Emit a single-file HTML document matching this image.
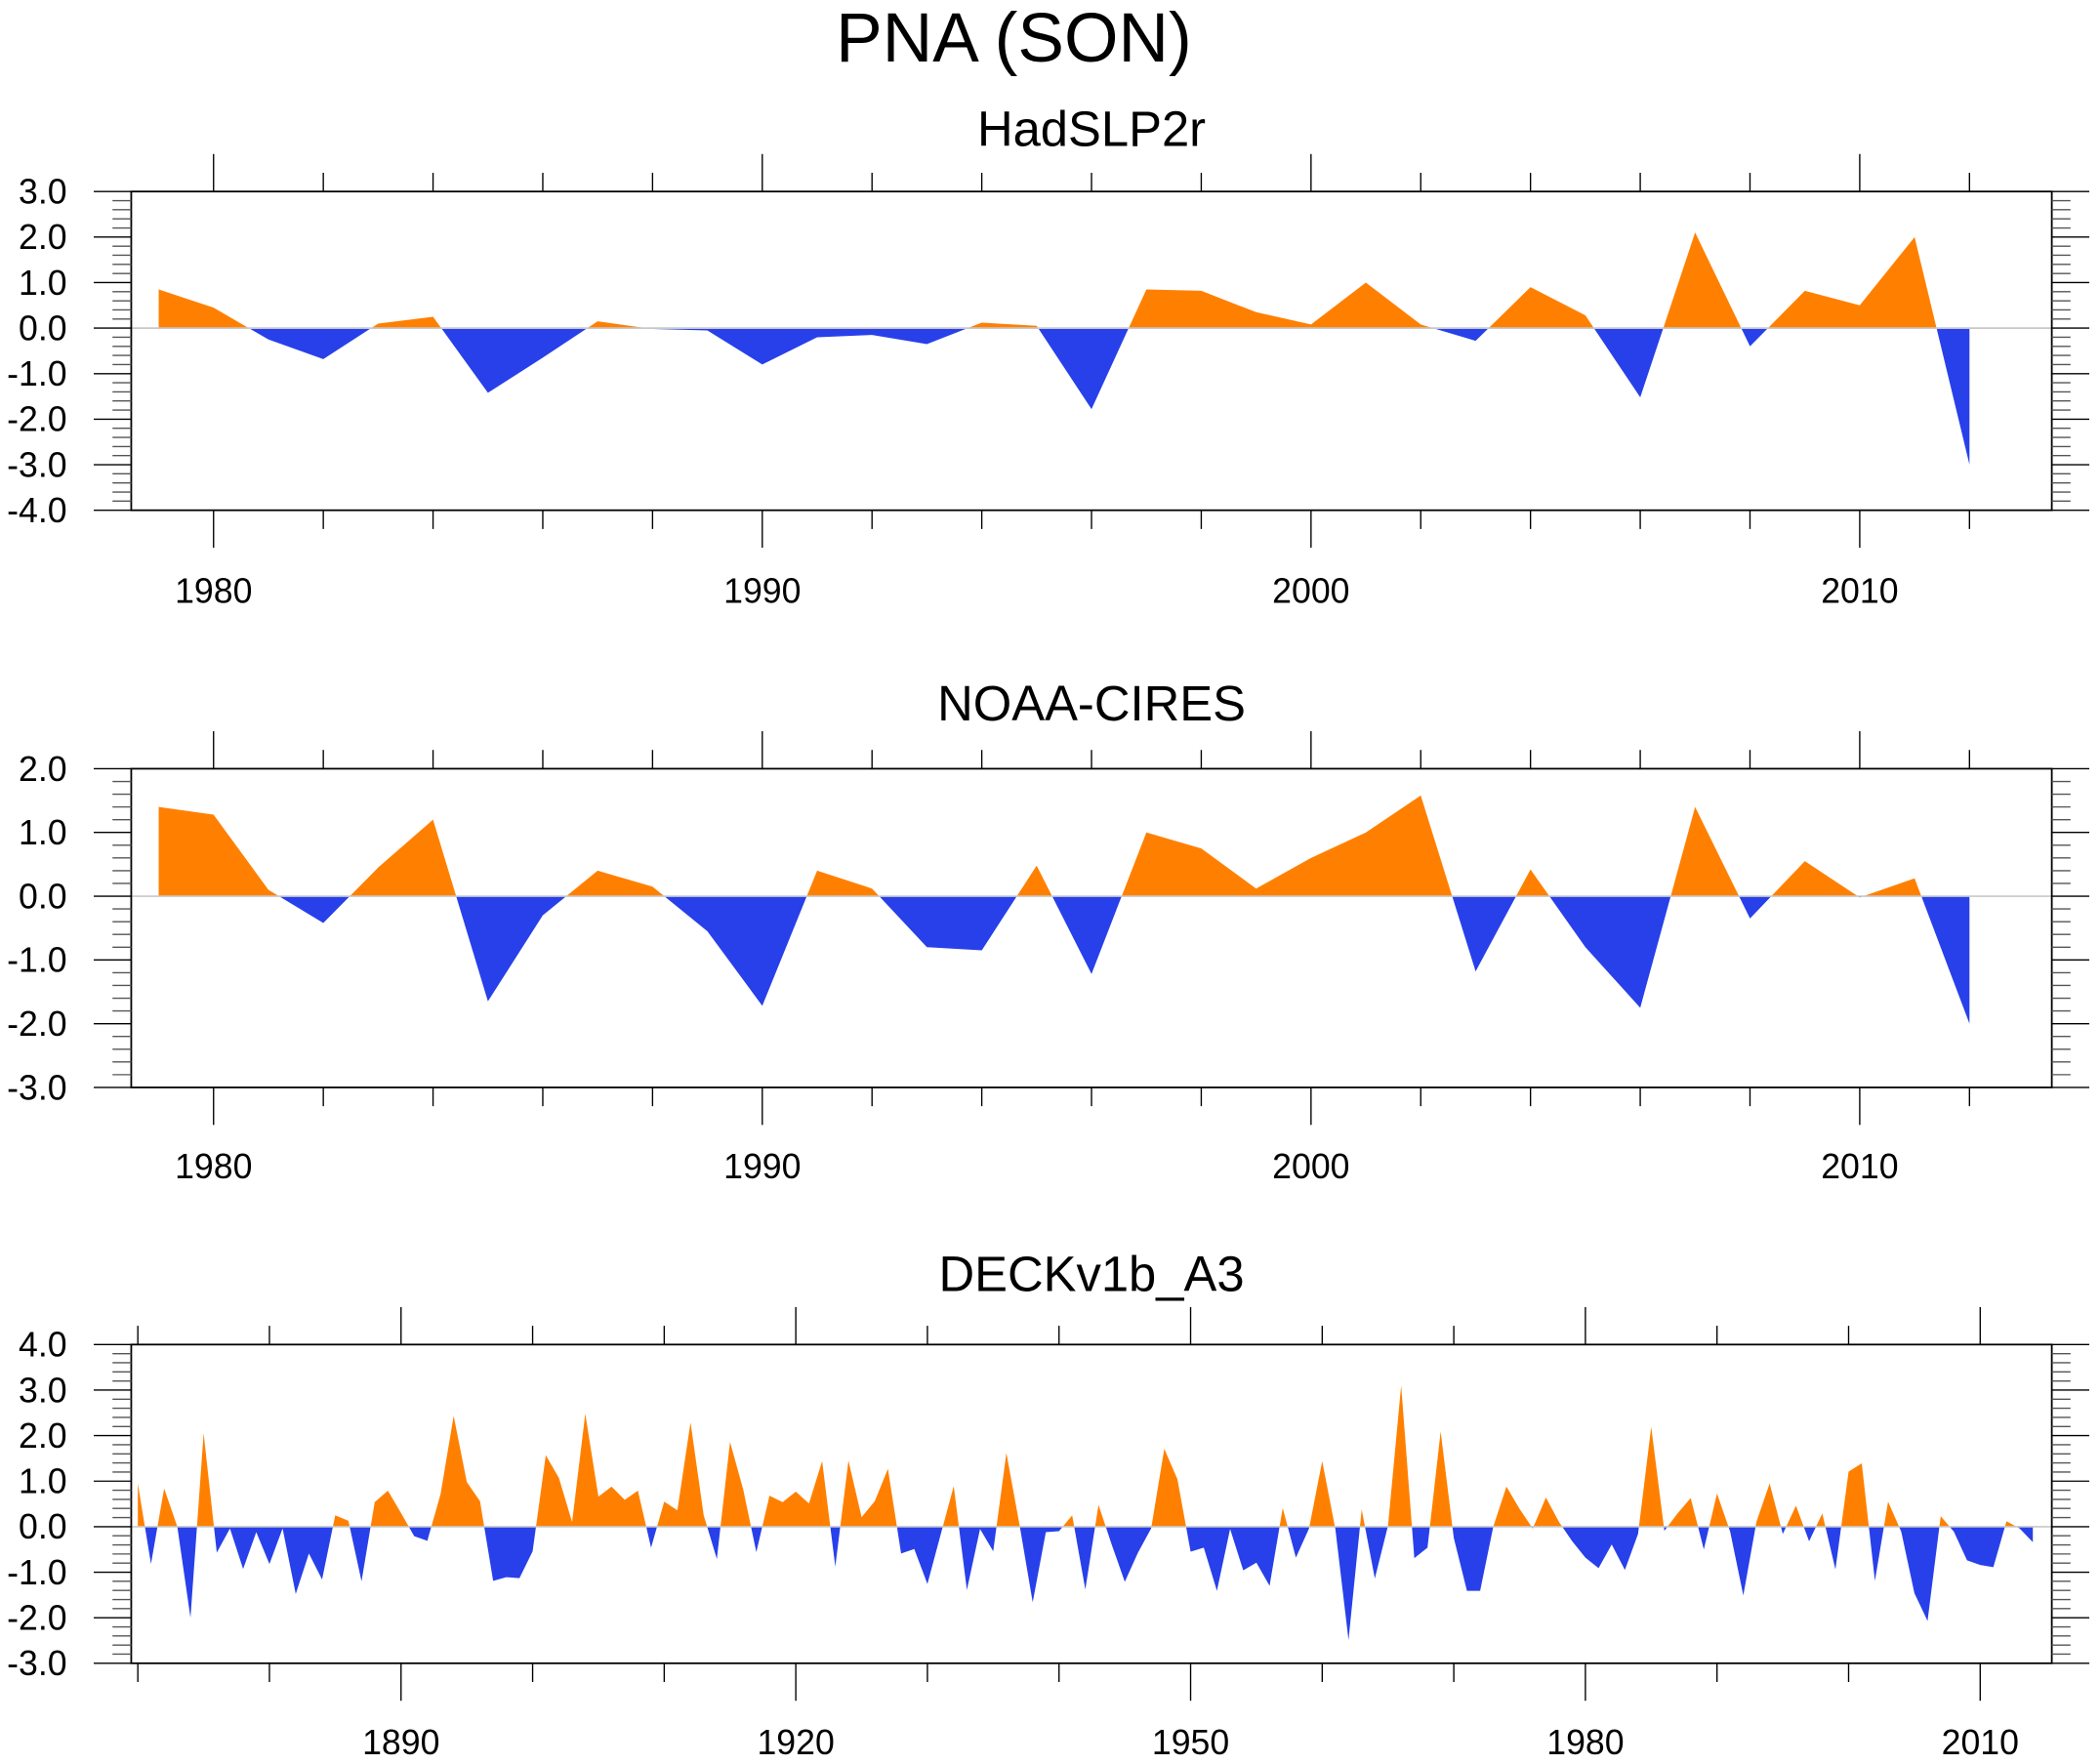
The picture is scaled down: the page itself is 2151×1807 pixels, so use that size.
<!DOCTYPE html>
<html><head><meta charset="utf-8"><style>html,body{margin:0;padding:0;background:#fff}svg{display:block}text{font-family:"Liberation Sans",sans-serif;fill:#000}</style></head>
<body>
<svg id="chart" xmlns="http://www.w3.org/2000/svg" width="2151" height="1807" viewBox="0 0 1568 1317.2">
<rect width="1568" height="1317.2" fill="#fff"/>
<text x="757" y="46" font-size="52" text-anchor="middle">PNA (SON)</text>
</svg>
<script>
const hadYears=[1979,1980,1981,1982,1983,1984,1985,1986,1987,1988,1989,1990,1991,1992,1993,1994,1995,1996,1997,1998,1999,2000,2001,2002,2003,2004,2005,2006,2007,2008,2009,2010,2011,2012];
const hadValues=[0.85,0.45,-0.25,-0.68,0.1,0.25,-1.42,-0.65,0.15,-0.02,-0.05,-0.8,-0.2,-0.15,-0.35,0.12,0.05,-1.78,0.85,0.82,0.35,0.08,1.0,0.08,-0.28,0.9,0.28,-1.52,2.1,-0.4,0.82,0.5,2.0,-3.0];
const noaaValues=[1.4,1.28,0.1,-0.42,0.45,1.2,-1.65,-0.3,0.4,0.15,-0.55,-1.72,0.4,0.12,-0.8,-0.85,0.48,-1.22,1.0,0.75,0.12,0.6,1.0,1.58,-1.18,0.42,-0.8,-1.75,1.4,-0.35,0.55,-0.02,0.28,-2.0];
const deckStart=1870;
const deckValues=[0.95,-0.82,0.84,0.0,-2.0,2.05,-0.57,-0.04,-0.93,-0.12,-0.82,-0.04,-1.48,-0.59,-1.16,0.25,0.13,-1.2,0.54,0.79,
0.3,-0.21,-0.31,0.71,2.43,0.98,0.56,-1.19,-1.11,-1.13,-0.54,1.57,1.07,0.1,2.48,0.66,0.88,0.59,0.79,-0.46,
0.55,0.36,2.29,0.25,-0.71,1.86,0.82,-0.56,0.68,0.54,0.77,0.51,1.44,-0.88,1.45,0.21,0.56,1.27,-0.59,-0.49,
-1.26,-0.18,0.89,-1.39,-0.05,-0.54,1.62,0.04,-1.66,-0.12,-0.1,0.25,-1.38,0.48,-0.39,-1.21,-0.57,-0.04,1.71,1.04,
-0.55,-0.46,-1.41,-0.05,-0.96,-0.79,-1.3,0.41,-0.68,-0.04,1.44,-0.05,-2.49,0.38,-1.14,0.02,3.1,-0.69,-0.46,2.09,
-0.25,-1.41,-1.41,0.0,0.88,0.39,-0.04,0.64,0.1,-0.32,-0.68,-0.91,-0.39,-0.95,-0.16,2.19,-0.09,0.29,0.63,-0.5,
0.73,-0.11,-1.51,0.11,0.95,-0.16,0.46,-0.32,0.29,-0.94,1.21,1.39,-1.19,0.55,-0.11,-1.46,-2.07,0.23,-0.11,-0.74,
-0.84,-0.89,0.12,-0.04,-0.34];
const yTicks1=[3,2,1,0,-1,-2,-3,-4];
const yTicks2=[2,1,0,-1,-2,-3];
const yTicks3=[4,3,2,1,0,-1,-2,-3];
const xLabels12=[1980,1990,2000,2010];
const xLabels3=[1890,1920,1950,1980,2010];

const NS='http://www.w3.org/2000/svg';
const svg=document.getElementById('chart');
function mk(tag,attrs,parent){const e=document.createElementNS(NS,tag);for(const k in attrs)e.setAttribute(k,attrs[k]);(parent||svg).appendChild(e);return e;}
const L=98,R=1532;
function panel(id,title,titleY,top,bot,ymin,ymax,xmin,xmax,years,vals,yTicks,xMajors,minorStep,minorStart,minorEnd,labelY){
  const g=mk('g',{});
  
  
  const xs=v=>L+(v-xmin)/(xmax-xmin)*(R-L);
  const ys=v=>top+(ymax-v)/(ymax-ymin)*(bot-top);
  const t=mk('text',{x:815,y:titleY,'font-size':37,'text-anchor':'middle'},g);t.textContent=title;
  
  
  const y0=ys(0);
  const cid='c'+id;
  const defs=mk('defs',{},g);
  const cp=mk('clipPath',{id:cid+'p'},defs);mk('rect',{x:L,y:top,width:R-L,height:y0-top},cp);
  const cn=mk('clipPath',{id:cid+'n'},defs);mk('rect',{x:L,y:y0,width:R-L,height:bot-y0},cn);
  let d='M'+xs(years[0])+','+y0;
  for(let i=0;i<vals.length;i++)d+=' L'+xs(years[i]).toFixed(2)+','+ys(vals[i]).toFixed(2);
  d+=' L'+xs(years[years.length-1])+','+y0+'Z';
  const pp=mk('path',{d:d,fill:'#ff8000','clip-path':'url(#'+cid+'p)'},g);
  
  
  const pn=mk('path',{d:d,fill:'#2840ea','clip-path':'url(#'+cid+'n)'},g);
  
  
  mk('line',{x1:L,x2:R,y1:y0,y2:y0,stroke:'#c8c8c8','stroke-width':1.2},g);
  const box=mk('rect',{x:L,y:top,width:R-L,height:bot-top,fill:'none',stroke:'#000','stroke-width':1.3},g);
  
  
  // y ticks
  const ticks=[];
  for(let k=Math.round(ymin*5);k<=Math.round(ymax*5);k++){const v=k/5;const maj=(k%5===0);const y=ys(v);const len=maj?28:14;
    mk('line',{x1:L-len,x2:L,y1:y,y2:y,stroke:maj?'#000':'#555','stroke-width':1},g);
    mk('line',{x1:R,x2:R+len,y1:y,y2:y,stroke:maj?'#000':'#555','stroke-width':1},g);}
  yTicks.forEach(v=>{const tx=mk('text',{x:50,y:ys(v)+9,'font-size':26,'text-anchor':'end'},g);tx.textContent=v.toFixed(1);
    
    });
  for(let yr=minorStart;yr<=minorEnd;yr+=minorStep){const x=xs(yr);const maj=xMajors.indexOf(yr)>=0;const len=maj?28:14;
    mk('line',{x1:x,x2:x,y1:top-len,y2:top,stroke:'#000','stroke-width':1},g);
    mk('line',{x1:x,x2:x,y1:bot,y2:bot+len,stroke:'#000','stroke-width':1},g);}
  xMajors.forEach(yr=>{const tx=mk('text',{x:xs(yr),y:labelY,'font-size':26,'text-anchor':'middle'},g);tx.textContent=yr;
    
    });
}
const deckYears=deckValues.map((_,i)=>deckStart+i);
panel('hadslp2r','HadSLP2r',109,143,381,-4,3,1978.5,2013.5,hadYears,hadValues,yTicks1,xLabels12,2,1980,2012,450);
panel('noaa-cires','NOAA-CIRES',538,574,812,-3,2,1978.5,2013.5,hadYears,noaaValues,yTicks2,xLabels12,2,1980,2012,880);
panel('deckv1b-a3','DECKv1b_A3',964,1004,1242,-3,4,1869.5,2015.44,deckYears,deckValues,yTicks3,xLabels3,10,1870,2010,1310);
</script>
</body></html>
